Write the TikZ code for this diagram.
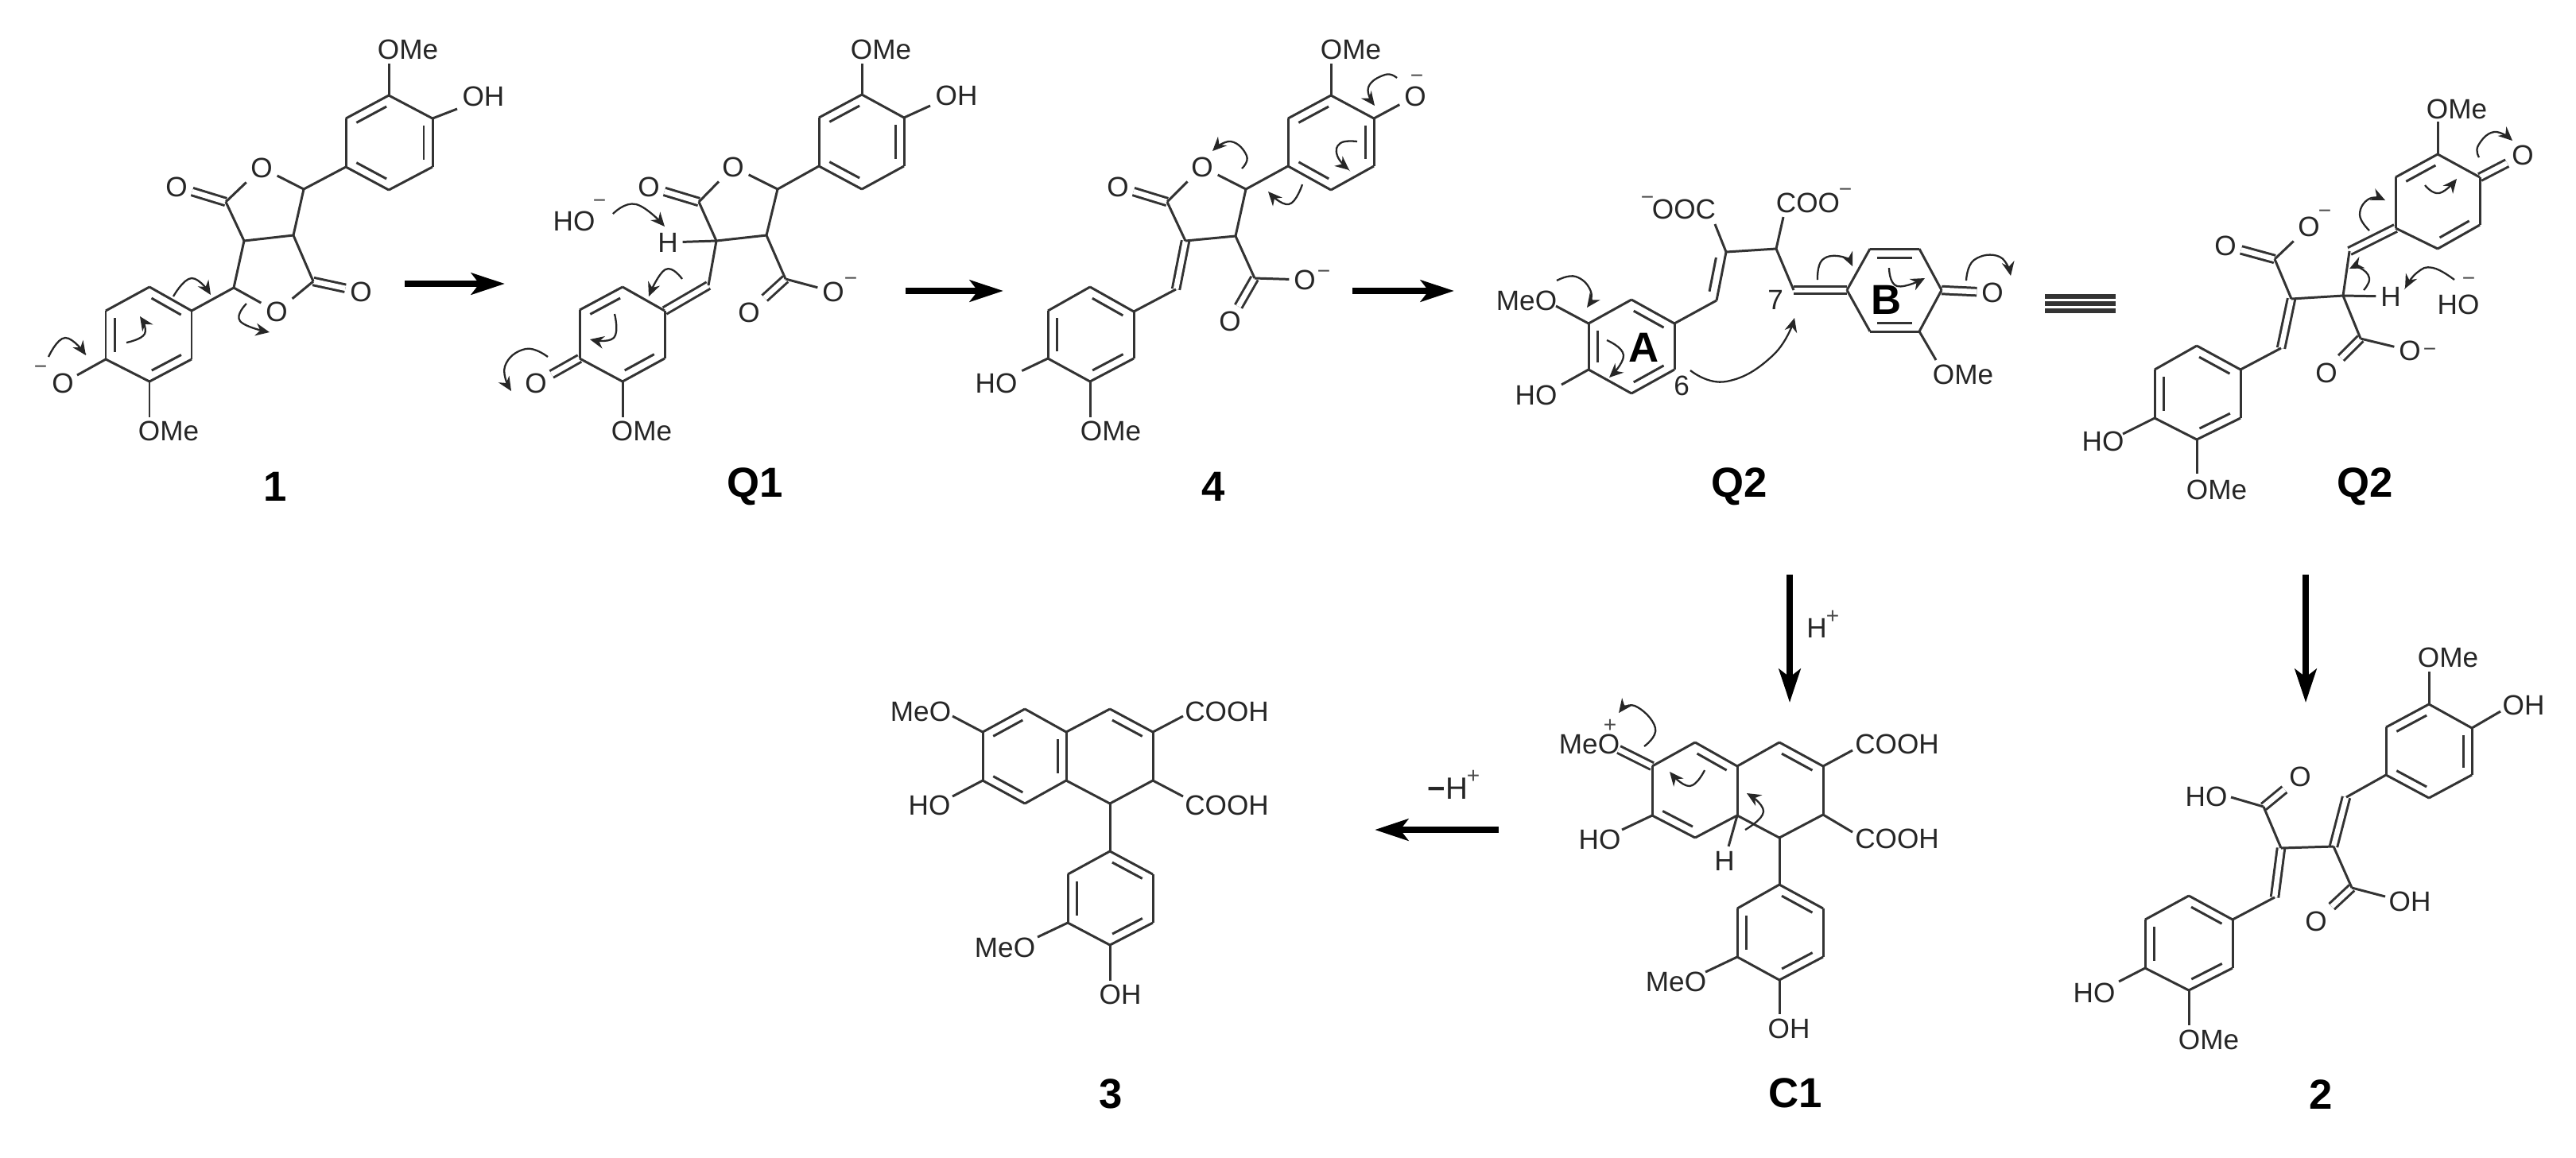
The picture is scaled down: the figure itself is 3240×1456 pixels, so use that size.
\documentclass[tikz,border=0pt]{standalone}
\usepackage{fontspec}
\setmainfont{Liberation Sans}
\usetikzlibrary{calc, arrows.meta}

\newcommand{\atoms}[1]{\foreach \n/\x/\y in {#1} \coordinate (\n) at (\x,\y);}
\newcommand{\bonds}[1]{\foreach \a/\b in {#1} \draw[bond] (\a) -- (\b);}
\newcommand{\dbonds}[1]{\foreach \a/\b in {#1} \draw[dbond] (\a) -- (\b);}
\newcommand{\inbonds}[1]{\foreach \a/\b in {#1}
    \draw[bond] ($(\a)!.15!(\b)!.11cm!-90:(\b)$) -- ($(\b)!.15!(\a)!.11cm!90:(\a)$);}
\newcommand{\ringbonds}[1]{\foreach \i/\j in {1/2,2/3,3/4,4/5,5/6,6/1} \draw[bond] (#1\i) -- (#1\j);}

\begin{document}
\begin{tikzpicture}[x=0.01cm, y=-0.01cm,
    bond/.style={line width=0.85pt, draw=black!80},
    dbond/.style={bond, double=white, double distance=0.065cm},
    atom/.style={inner sep=1.5pt, text=black!85, font=\fontsize{10}{12}\selectfont},
    charge/.style={inner sep=0pt, text=black!70, font=\fontsize{8}{9}\selectfont},
    cmpd/.style={inner sep=0pt, font=\fontsize{15}{17}\selectfont\bfseries},
    curly/.style={line width=0.65pt, draw=black!85, smooth, tension=0.8, -{Stealth[length=5pt,width=4.5pt]}},
    rxn/.style={line width=2.3pt, -{Stealth[length=0.42cm,width=0.27cm,inset=0.1cm]}}]
    \useasboundingbox (0,0) rectangle (3240,1456);

    % Compound 1
    \atoms{ua1/489/120, ua2/544/149, ua3/544/210, ua4/489/239, ua5/435/210, ua6/435/149,
           la1/188/361, la2/241/391, la3/241/452, la4/188/480, la5/133/452, la6/133/391,
           ca1/382/238, ca2/369/296, ca3/307/303, ca4/284/254, ca5/294/362, ca6/394/354,
           ea1/489/80, ea2/575/137, ea3/97/472, ea4/188/525}
    \node[atom] (oa1) at (329,211) {O};
    \node[atom] (oa2) at (348,392) {O};
    \node[atom] (oa3) at (222,235) {O};
    \node[atom] (oa4) at (454,367) {O};
    \node[atom] (ta1) at (513,62) {OMe};
    \node[atom] (ta2) at (608,121) {OH};
    \node[atom] (ta3) at (79,482) {O};
    \node[atom] (ta4) at (212,542) {OMe};
    \node[charge] (qa1) at (51,465) {−};
    \node[cmpd] (na) at (346,612) {1};
    \dbonds{ca4/oa3, ca6/oa4}
    \ringbonds{ua} \ringbonds{la}
    \inbonds{ua6/ua1, ua2/ua3, ua4/ua5, la1/la2, la3/la4, la5/la6}
    \bonds{ua1/ea1, ua2/ea2, la5/ea3, la4/ea4, ua5/ca1, ca1/oa1, oa1/ca4, ca4/ca3, ca3/ca2,
           ca2/ca1, ca3/ca5, ca5/oa2, oa2/ca6, ca6/ca2, ca5/la2}
    \draw[curly] plot coordinates {(218,373) (241,350) (265,371)};
    \draw[curly] plot coordinates {(159,431) (182,420) (176,398)};
    \draw[curly] plot coordinates {(310,382) (302,404) (339,418)};
    \draw[curly] plot coordinates {(61,449) (82,425) (108,447)};

    % Compound Q1
    \atoms{ub1/1084/119, ub2/1137/148, ub3/1137/209, ub4/1084/238, ub5/1030/209, ub6/1030/148,
           lb1/783/361, lb2/836/391, lb3/836/451, lb4/783/480, lb5/729/451, lb6/729/390,
           cb1/978/238, cb2/964/296, cb3/901/303, cb4/879/254, cb5/891/359, cb6/988/351,
           eb1/1084/80, eb2/1170/133, eb3/1026/359, eb4/783/525}
    \node[atom] (ob1) at (922,210) {O};
    \node[atom] (ob2) at (816,235) {O};
    \node[atom] (ob3) at (942,393) {O};
    \node[atom] (ob4) at (1048,367) {O};
    \node[atom] (ob5) at (674,482) {O};
    \node[atom] (hb1) at (840,305) {H};
    \node[atom] (tb1) at (1108,62) {OMe};
    \node[atom] (tb2) at (1203,120) {OH};
    \node[atom] (tb3) at (722,278) {HO};
    \node[atom] (tb4) at (807,542) {OMe};
    \node[charge] (qb1) at (754,256) {−};
    \node[charge] (qb2) at (1070,354) {−};
    \node[cmpd] (nb) at (950,612) {Q1};
    \dbonds{cb4/ob2, cb6/ob3, lb5/ob5, lb2/cb5}
    \ringbonds{ub} \ringbonds{lb}
    \inbonds{ub6/ub1, ub2/ub3, ub4/ub5, lb6/lb1, lb3/lb4}
    \bonds{ub1/eb1, ub2/eb2, lb4/eb4, ub5/cb1, cb1/ob1, ob1/cb4, cb4/cb3, cb3/cb2, cb2/cb1,
           cb3/cb5, cb3/hb1, cb2/cb6, cb6/ob4}
    \draw[curly] plot coordinates {(771,269) (800,257) (836,285)};
    \draw[curly] plot coordinates {(858,351) (837,339) (816,373)};
    \draw[curly] plot coordinates {(773,395) (772,425) (742,427)};
    \draw[curly] plot coordinates {(689,449) (661,439) (635,461) (643,492)};

    % Compound 4
    \atoms{uc1/1674/120, uc2/1728/149, uc3/1728/209, uc4/1674/239, uc5/1620/209, uc6/1620/149,
           lc1/1371/361, lc2/1426/392, lc3/1426/451, lc4/1371/480, lc5/1318/451, lc6/1318/391,
           cc1/1567/238, cc2/1554/297, cc3/1491/303, cc4/1468/254, cc5/1479/364, cc6/1578/350,
           ec1/1674/80, ec2/1371/525}
    \node[atom] (oc1) at (1512,210) {O};
    \node[atom] (oc2) at (1406,235) {O};
    \node[atom] (oc3) at (1547,404) {O};
    \node[atom] (oc4) at (1641,352) {O};
    \node[atom] (oc5) at (1780,121) {O};
    \node[atom] (tc1) at (1699,62) {OMe};
    \node[atom] (tc2) at (1253,482) {HO};
    \node[atom] (tc3) at (1397,542) {OMe};
    \node[charge] (qc1) at (1782,99) {−};
    \node[charge] (qc2) at (1665,345) {−};
    \node[cmpd] (nc) at (1526,612) {4};
    \dbonds{cc4/oc2, cc6/oc3, cc3/cc5}
    \ringbonds{uc} \ringbonds{lc}
    \inbonds{uc6/uc1, uc2/uc3, uc4/uc5, lc1/lc2, lc3/lc4, lc5/lc6}
    \bonds{uc1/ec1, uc2/oc5, lc4/ec2, lc5/tc2, uc5/cc1, cc1/oc1, oc1/cc4, cc4/cc3, cc3/cc2,
           cc2/cc1, cc5/lc2, cc2/cc6, cc6/oc4}
    \draw[curly] plot coordinates {(1757,98) (1742,94) (1721,110) (1729,133)};
    \draw[curly] plot coordinates {(1707,178) (1686,180) (1682,196) (1697,214)};
    \draw[curly] plot coordinates {(1562,212) (1568,196) (1548,178) (1525,190)};
    \draw[curly] plot coordinates {(1638,232) (1621,257) (1595,241)};

    % Compound Q2, ring A on the left
    \atoms{ld1/2052/377, ld2/2106/407, ld3/2106/465, ld4/2052/495, ld5/1998/465, ld6/1998/407,
           rd1/2352/313, rd2/2414/313, rd3/2442/365, rd4/2414/417, rd5/2352/417, rd6/2323/365,
           cd1/2159/378, cd2/2171/317, cd3/2234/313, cd4/2256/365,
           ed1/1957/385, ed2/1964/484, ed3/2157/282, ed4/2243/273, ed5/2435/453}
    \node[atom] (od1) at (2506,368) {O};
    \node[atom] (td1) at (1920,378) {MeO};
    \node[atom] (td2) at (1932,497) {HO};
    \node[atom] (td3) at (2118,263) {OOC};
    \node[atom] (td4) at (2274,255) {COO};
    \node[atom] (td5) at (2469,471) {OMe};
    \node[charge] (qd1) at (2072,252) {−};
    \node[charge] (qd2) at (2321,242) {−};
    \node[atom] (kd1) at (2115,485) {6};
    \node[atom] (kd2) at (2233,377) {7};
    \node[cmpd] (ad) at (2068,437) {A};
    \node[cmpd] (bd) at (2373,377) {B};
    \node[cmpd] (nd) at (2188,612) {Q2};
    \dbonds{rd3/od1, cd4/rd6}
    \ringbonds{ld} \ringbonds{rd}
    \inbonds{ld1/ld2, ld3/ld4, ld5/ld6, rd1/rd2, rd4/rd5, cd2/cd1}
    \bonds{ld6/ed1, ld5/ed2, ld2/cd1, cd1/cd2, cd2/cd3, cd3/cd4, cd2/ed3, cd3/ed4, rd4/ed5}
    \draw[curly] plot coordinates {(1958,353) (1982,348) (2001,367) (1996,387)};
    \draw[curly] plot coordinates {(2021,428) (2042,447) (2024,475)};
    \draw[curly] plot coordinates {(2126,466) (2171,480) (2230,447) (2257,400)};
    \draw[curly] plot coordinates {(2286,352) (2292,327) (2317,323) (2330,335)};
    \draw[curly] plot coordinates {(2376,337) (2386,360) (2421,350)};
    \draw[curly] plot coordinates {(2473,353) (2483,327) (2515,323) (2529,347)};

    % Compound Q2, redrawn
    \atoms{ue1/3066/194, ue2/3119/223, ue3/3119/283, ue4/3066/313, ue5/3013/287, ue6/3013/223,
           le1/2763/435, le2/2818/465, le3/2818/526, le4/2763/553, le5/2710/526, le6/2710/465,
           ce1/2955/316, ce2/2947/372, ce3/2882/376, ce4/2861/326, ce5/2869/438, ce6/2969/426,
           ee1/3066/153, ee2/2670/546, ee3/2763/596}
    \node[atom] (oe1) at (3173,195) {O};
    \node[atom] (oe2) at (2904,285) {O};
    \node[atom] (oe3) at (2799,309) {O};
    \node[atom] (oe4) at (3031,441) {O};
    \node[atom] (oe5) at (2926,469) {O};
    \node[atom] (he1) at (3007,373) {H};
    \node[atom] (te1) at (3090,137) {OMe};
    \node[atom] (te2) at (3092,383) {HO};
    \node[atom] (te3) at (2645,555) {HO};
    \node[atom] (te4) at (2788,616) {OMe};
    \node[charge] (qe1) at (2924,269) {−};
    \node[charge] (qe2) at (3105,354) {−};
    \node[charge] (qe3) at (3056,443) {−};
    \node[cmpd] (ne) at (2975,612) {Q2};
    \dbonds{ue2/oe1, ce4/oe3, ce6/oe5, ce1/ue5, ce3/ce5}
    \ringbonds{ue} \ringbonds{le}
    \inbonds{ue6/ue1, ue3/ue4, le1/le2, le3/le4, le5/le6}
    \bonds{ue1/ee1, le5/ee2, le4/ee3, ce1/ce2, ce2/he1, ce2/ce3, ce3/ce4, ce4/oe2, ce2/ce6,
           ce6/oe4, ce5/le2}
    \draw[curly] plot coordinates {(3118,198) (3117,183) (3137,166) (3160,177)};
    \draw[curly] plot coordinates {(3050,233) (3068,243) (3090,225)};
    \draw[curly] plot coordinates {(2980,290) (2968,270) (2980,250) (3000,252)};
    \draw[curly] plot coordinates {(2973,365) (2980,350) (2968,337) (2955,338)};
    \draw[curly] plot coordinates {(3087,352) (3060,337) (3040,343) (3025,363)};

    % Compound 3
    \atoms{lf1/1289/892, lf2/1341/921, lf3/1341/982, lf4/1289/1011, lf5/1236/982, lf6/1236/921,
           mf1/1396/892, mf2/1450/921, mf3/1450/982, mf4/1396/1011,
           df1/1396/1071, df2/1450/1100, df3/1450/1161, df4/1396/1189, df5/1343/1161, df6/1343/1100,
           ef1/1198/901, ef2/1198/1002, ef3/1488/901, ef4/1488/1002, ef5/1305/1179, ef6/1396/1234}
    \node[atom] (tf1) at (1158,895) {MeO};
    \node[atom] (tf2) at (1169,1013) {HO};
    \node[atom] (tf3) at (1543,895) {COOH};
    \node[atom] (tf4) at (1543,1013) {COOH};
    \node[atom] (tf5) at (1264,1192) {MeO};
    \node[atom] (tf6) at (1409,1251) {OH};
    \node[cmpd] (nf) at (1397,1376) {3};
    \ringbonds{lf} \ringbonds{df}
    \inbonds{lf6/lf1, lf2/lf3, lf4/lf5, mf1/mf2, df1/df2, df3/df4, df5/df6}
    \bonds{lf2/mf1, mf1/mf2, mf2/mf3, mf3/mf4, mf4/lf3, mf4/df1, lf6/ef1, lf5/ef2, mf2/ef3,
           mf3/ef4, df5/ef5, df4/ef6}

    % Compound C1
    \atoms{lg1/2132/934, lg2/2185/964, lg3/2185/1026, lg4/2132/1054, lg5/2078/1026, lg6/2078/964,
           mg1/2238/934, mg2/2293/964, mg3/2293/1025, mg4/2238/1054,
           dg1/2238/1113, dg2/2293/1143, dg3/2293/1204, dg4/2238/1233, dg5/2185/1204, dg6/2185/1143,
           eg1/2040/1044, eg2/2330/944, eg3/2330/1047, eg4/2145/1223, eg5/2238/1276, eg6/2036/943}
    \node[atom] (tg1) at (1999,936) {MeO};
    \node[atom] (tg2) at (2012,1056) {HO};
    \node[atom] (tg3) at (2386,936) {COOH};
    \node[atom] (tg4) at (2386,1055) {COOH};
    \node[atom] (tg5) at (2108,1235) {MeO};
    \node[atom] (tg6) at (2250,1294) {OH};
    \node[atom] (hg1) at (2169,1083) {H};
    \node[charge] (qg1) at (2025,913) {+};
    \node[cmpd] (ng) at (2258,1375) {C1};
    \dbonds{lg6/eg6}
    \ringbonds{lg} \ringbonds{dg}
    \inbonds{lg1/lg2, lg4/lg5, mg1/mg2, dg1/dg2, dg3/dg4, dg5/dg6}
    \bonds{lg2/mg1, mg1/mg2, mg2/mg3, mg3/mg4, mg4/lg3, mg4/dg1, lg3/hg1, lg5/eg1, mg2/eg2,
           mg3/eg3, dg5/eg4, dg4/eg5}
    \draw[curly] plot coordinates {(2068,939) (2082,916) (2056,888) (2036,897)};
    \draw[curly] plot coordinates {(2144,969) (2125,989) (2100,971)};
    \draw[curly] plot coordinates {(2195,1044) (2218,1021) (2197,998)};

    % Compound 2
    \atoms{uh1/3055/886, uh2/3109/916, uh3/3109/975, uh4/3055/1004, uh5/3001/975, uh6/3001/915,
           lh1/2753/1127, lh2/2808/1157, lh3/2808/1218, lh4/2753/1246, lh5/2698/1218, lh6/2698/1157,
           ch1/2951/1003, ch2/2935/1065, ch3/2869/1067, ch4/2847/1015, ch5/2958/1117, ch6/2861/1129,
           eh1/3055/845, eh2/3145/895, eh3/2806/1003, eh4/3000/1128, eh5/2665/1235, eh6/2753/1290}
    \node[atom] (oh1) at (2893,977) {O};
    \node[atom] (oh2) at (2913,1159) {O};
    \node[atom] (th1) at (3079,827) {OMe};
    \node[atom] (th2) at (3174,887) {OH};
    \node[atom] (th3) at (2775,1002) {HO};
    \node[atom] (th4) at (3031,1134) {OH};
    \node[atom] (th5) at (2634,1249) {HO};
    \node[atom] (th6) at (2778,1308) {OMe};
    \node[cmpd] (nh) at (2919,1377) {2};
    \dbonds{ch4/oh1, ch5/oh2, ch1/ch2, ch3/ch6}
    \ringbonds{uh} \ringbonds{lh}
    \inbonds{uh6/uh1, uh2/uh3, uh4/uh5, lh1/lh2, lh3/lh4, lh5/lh6}
    \bonds{uh1/eh1, uh2/eh2, uh5/ch1, ch2/ch3, ch2/ch5, ch3/ch4, ch4/eh3, ch5/eh4, ch6/lh2,
           lh5/eh5, lh4/eh6}

    % Arrows
    \atoms{ra1/509/357, ra2/635/357, rb1/1139/366, rb2/1262/366, rc1/1701/366, rc2/1829/366,
           rd1a/2251/723, rd2a/2251/884, re1a/2900/723, re2a/2900/884, rf1a/1885/1044, rf2a/1729/1044,
           sa1/2572/373, sa2/2661/373, sb1/2572/382, sb2/2661/382, sc1/2572/391, sc2/2661/391}
    \draw[rxn] (ra1) -- (ra2);
    \draw[rxn] (rb1) -- (rb2);
    \draw[rxn] (rc1) -- (rc2);
    \draw[rxn] (rd1a) -- (rd2a);
    \draw[rxn] (re1a) -- (re2a);
    \draw[rxn] (rf1a) -- (rf2a);
    \foreach \i in {a,b,c}
        \draw[line width=1.6pt, draw=black!80] (s\i1) -- (s\i2);
    \node[atom] (hplus) at (2285,790) {H};
    \node[charge] (hplusq) at (2305,776) {+};
    \node[atom, font=\fontsize{11}{13}\selectfont] (hminus) at (1821,992) {\textbf{−}H};
    \node[charge] (hminusq) at (1853,977) {+};
\end{tikzpicture}
\end{document}
